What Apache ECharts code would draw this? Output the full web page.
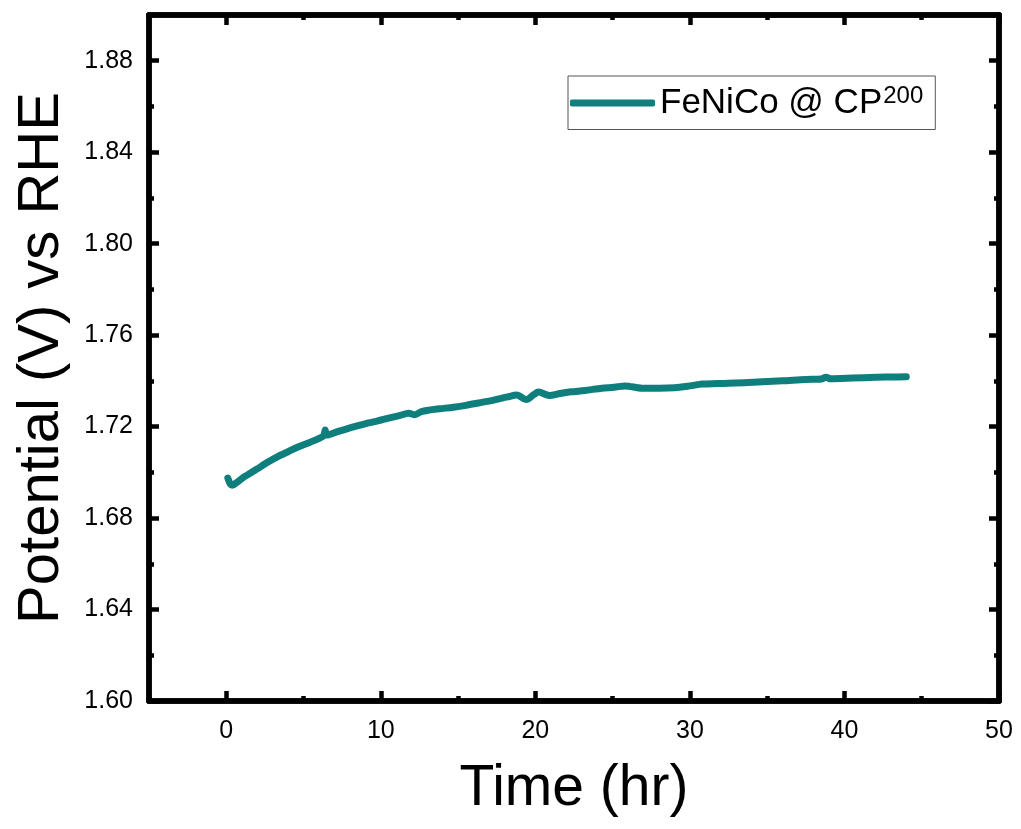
<!DOCTYPE html>
<html>
<head>
<meta charset="utf-8">
<script src="https://cdn.jsdelivr.net/npm/echarts@6/dist/echarts.min.js"></script>
<style>
html,body{margin:0;padding:0;background:#fff;}
#chart{width:1021px;height:829px;}
</style>
</head>
<body>
<div id="chart"></div>
<script>
// ---- data ----
const timeHr = [0.10,0.25,0.40,0.8,1.2,1.6,2.0,2.7,3.3,4.0,4.6,5.3,5.9,6.3,6.4,6.5,7.2,8.0,8.6,9.2,9.8,10.5,11.2,11.8,12.2,12.6,13.1,13.8,14.7,15.5,16.3,17.3,18.2,18.8,19.4,19.9,20.2,20.9,21.6,22.3,23.2,24.3,25.1,25.8,26.9,28.0,29.0,30.0,30.8,31.8,32.5,33.5,34.7,36.0,37.5,38.5,38.8,39.1,40.5,42.0,43.0,44.0];
const potential = [1.6975,1.6950,1.6944,1.6962,1.6982,1.6998,1.7015,1.7045,1.7068,1.7090,1.7110,1.7128,1.7145,1.7160,1.7185,1.7163,1.7178,1.7194,1.7205,1.7216,1.7225,1.7237,1.7248,1.7258,1.7252,1.7265,1.7272,1.7278,1.7285,1.7293,1.7303,1.7316,1.7330,1.7338,1.7318,1.7340,1.7351,1.7336,1.7345,1.7352,1.7358,1.7368,1.7372,1.7378,1.7368,1.7368,1.7370,1.7378,1.7386,1.7388,1.7390,1.7392,1.7396,1.7400,1.7406,1.7408,1.7416,1.7409,1.7412,1.7416,1.7417,1.7418];
const xMajorTicks = [0,10,20,30,40,50];
const xMinorTicks = [5,15,25,35,45];
const yMajorTicks = [1.60,1.64,1.68,1.72,1.76,1.80,1.84,1.88];
const yMinorTicks = [1.62,1.66,1.70,1.74,1.78,1.82,1.86];
const seriesName = 'FeNiCo @ CP';
const seriesSup = '200';

const FONT = '"Liberation Sans", Arial, sans-serif';
const COLOR = '#0f7f7d';
const X_MIN = -5, X_MAX = 50, Y_MIN = 1.60, Y_MAX = 1.90;
const LW = 5.5;

function xAx(opts) {
  return Object.assign({
    type: 'value', min: X_MIN, max: X_MAX, gridIndex: 0,
    axisLine: {show: true, onZero: false, lineStyle: {color: '#000', width: LW}},
    splitLine: {show: false},
    axisLabel: {show: false},
    axisTick: {show: true, inside: true, length: 10, lineStyle: {color: '#000', width: 4.5}, customValues: xMajorTicks}
  }, opts);
}
function yAx(opts) {
  return Object.assign({
    type: 'value', min: Y_MIN, max: Y_MAX, gridIndex: 0,
    axisLine: {show: true, onZero: false, lineStyle: {color: '#000', width: LW}},
    splitLine: {show: false},
    axisLabel: {show: false},
    axisTick: {show: true, inside: true, length: 10, lineStyle: {color: '#000', width: 4.5}, customValues: yMajorTicks}
  }, opts);
}

const chart = echarts.init(document.getElementById('chart'), null, {renderer: 'canvas'});
chart.setOption({
  backgroundColor: '#fff',
  animation: false,
  grid: {left: 149, right: 22, top: 15, bottom: 128, containLabel: false},
  xAxis: [
    xAx({position: 'bottom',
      name: 'Time (hr)', nameLocation: 'middle', nameGap: 60,
      nameTextStyle: {fontFamily: FONT, fontSize: 57, color: '#000'},
      axisLabel: {show: true, customValues: xMajorTicks, margin: 18, fontFamily: FONT, fontSize: 25, color: '#000',
        formatter: v => String(Math.round(v))}}),
    xAx({position: 'bottom', axisTick: {show: true, inside: true, length: 5, lineStyle: {color: '#000', width: 4.5}, customValues: xMinorTicks}}),
    xAx({position: 'top'}),
    xAx({position: 'top', axisTick: {show: true, inside: true, length: 5, lineStyle: {color: '#000', width: 4.5}, customValues: xMinorTicks}})
  ],
  yAxis: [
    yAx({position: 'left',
      name: 'Potential (V) vs RHE', nameLocation: 'middle', nameGap: 78, nameRotate: 90,
      nameTextStyle: {fontFamily: FONT, fontSize: 58, color: '#000'},
      axisLabel: {show: true, customValues: yMajorTicks, margin: 16, fontFamily: FONT, fontSize: 25, color: '#000',
        formatter: v => v.toFixed(2)}}),
    yAx({position: 'left', axisTick: {show: true, inside: true, length: 5, lineStyle: {color: '#000', width: 4.5}, customValues: yMinorTicks}}),
    yAx({position: 'right'}),
    yAx({position: 'right', axisTick: {show: true, inside: true, length: 5, lineStyle: {color: '#000', width: 4.5}, customValues: yMinorTicks}})
  ],
  legend: {
    show: true,
    left: 568, top: 76,
    orient: 'vertical',
    backgroundColor: '#fff',
    borderColor: '#555', borderWidth: 1, borderRadius: 0,
    padding: [8, 12, 9, 2],
    itemWidth: 85, itemHeight: 7,
    itemGap: 0,
    icon: 'roundRect',
    formatter: () => '{a|' + seriesName + '}{b|' + seriesSup + '}',
    textStyle: {
      fontFamily: FONT, color: '#000',
      rich: {
        a: {fontFamily: FONT, fontSize: 35, color: '#000', lineHeight: 38},
        b: {fontFamily: FONT, fontSize: 24, color: '#000', verticalAlign: 'top', lineHeight: 22, padding: [0,0,0,1]}
      }
    },
    data: [{name: seriesName, itemStyle: {color: COLOR}}]
  },
  series: [{
    name: seriesName,
    type: 'line',
    xAxisIndex: 0, yAxisIndex: 0,
    data: timeHr.map((t, i) => [t, potential[i]]),
    showSymbol: false, symbol: 'none',
    smooth: 0.3,
    lineStyle: {color: COLOR, width: 7, cap: 'round', join: 'round'},
    itemStyle: {color: COLOR},
    z: 3
  }]
});
</script>
</body>
</html>
